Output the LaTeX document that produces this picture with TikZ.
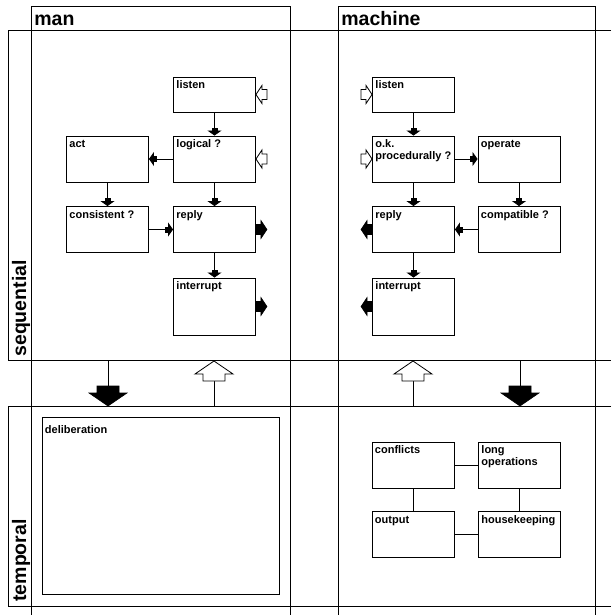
\documentclass[tikz,border=0pt]{standalone}
\usepackage{fontspec}
\setmainfont{Liberation Sans}
\usetikzlibrary{arrows.meta}
\newcommand\boxfont{\fontsize{11}{12}\selectfont\bfseries}
\newcommand\headfont{\fontsize{19.5}{22}\selectfont\bfseries}
\begin{document}
\begin{tikzpicture}[x=1pt,y=-1pt,line width=.8pt,
  box/.style={draw,line width=.9pt,minimum width=82pt,minimum height=46pt,inner sep=0pt},
  lowbox/.style={box,minimum height=35pt},
  highbox/.style={box,minimum height=57pt},
  lbl/.style={anchor=north west,inner xsep=3pt,inner ysep=3.6pt,align=left,font=\boxfont,execute at begin node=\strut},
  head/.style={font=\headfont,inner sep=0pt,anchor=base west},
  flow/.style={-{Rectangle[width=6pt,length=3pt]Triangle[width=14pt,length=5pt]}},
  filledarrow/.style={draw,fill=black,line width=.6pt},
  hollowarrow/.style={draw,fill=white,line width=.8pt},
  bigarrow/.pic={\path[pic actions] (0,0) -- (-13,19) -- (-13,11) -- (-20,11) -- (-20,-11) -- (-13,-11) -- (-13,-19) -- cycle;},
  sidearrow/.pic={\path[pic actions] (0,0) -- (-6,9) -- (-6,5) -- (-11,5) -- (-11,-5) -- (-6,-5) -- (-6,-9) -- cycle;}]
  \useasboundingbox (0,0) rectangle (611,615);
  \draw (611,30) -- (8,30) -- (8,360) -- (611,360);
  \draw (611,406) -- (8,406) -- (8,606) -- (611,606);
  \draw (31,615) -- (31,6) -- (290,6) -- (290,615);
  \draw (338,615) -- (338,6) -- (595,6) -- (595,615);
  \node[head] (man) at (34,26) {man};
  \node[head] (machine) at (341,26) {machine};
  \node[head,rotate=90] (seq) at (26,357) {sequential};
  \node[head,rotate=90] (temp) at (26,602) {temporal};

  \node[lowbox,label={[lbl]north west:listen}] (mlisten) at (214.5,94.5) {};
  \node[box,label={[lbl]north west:logical ?}] (mlogical) at (214.5,159) {};
  \node[box,label={[lbl]north west:act}] (mact) at (107.5,159) {};
  \node[box,label={[lbl]north west:consistent ?}] (mconsistent) at (107.5,229.5) {};
  \node[box,label={[lbl]north west:reply}] (mreply) at (214.5,229.5) {};
  \node[highbox,label={[lbl]north west:interrupt}] (minterrupt) at (214.5,306.5) {};
  \draw[flow] (mlisten) -- (mlogical);
  \draw[flow] (mlogical) -- (mact);
  \draw[flow] (mlogical) -- (mreply);
  \draw[flow] (mact) -- (mconsistent);
  \draw[flow] (mconsistent) -- (mreply);
  \draw[flow] (mreply) -- (minterrupt);
  \pic[hollowarrow,rotate=180] at (mlisten.east) {sidearrow};
  \pic[hollowarrow,rotate=180] at (mlogical.east) {sidearrow};
  \pic[filledarrow] at ([xshift=11pt]mreply.east) {sidearrow};
  \pic[filledarrow] at ([xshift=11pt]minterrupt.east) {sidearrow};

  \node[lowbox,label={[lbl]north west:listen}] (clisten) at (413.5,94.5) {};
  \node[box,label={[lbl]north west:o.k.\\procedurally ?}] (cok) at (413.5,159) {};
  \node[box,label={[lbl]north west:operate}] (coperate) at (519,159) {};
  \node[box,label={[lbl]north west:reply}] (creply) at (413.5,229.5) {};
  \node[box,label={[lbl]north west:compatible ?}] (ccompatible) at (519,229.5) {};
  \node[highbox,label={[lbl]north west:interrupt}] (cinterrupt) at (413.5,306.5) {};
  \draw[flow] (clisten) -- (cok);
  \draw[flow] (cok) -- (coperate);
  \draw[flow] (cok) -- (creply);
  \draw[flow] (coperate) -- (ccompatible);
  \draw[flow] (ccompatible) -- (creply);
  \draw[flow] (creply) -- (cinterrupt);
  \pic[hollowarrow] at (clisten.west) {sidearrow};
  \pic[hollowarrow] at (cok.west) {sidearrow};
  \pic[filledarrow,rotate=180] at ([xshift=-11pt]creply.west) {sidearrow};
  \pic[filledarrow,rotate=180] at ([xshift=-11pt]cinterrupt.west) {sidearrow};

  \draw (108,360) -- (108,387);
  \pic[filledarrow,rotate=-90] at (108,406) {bigarrow};
  \draw (214,406) -- (214,380);
  \pic[hollowarrow,rotate=90] at (214,361) {bigarrow};
  \draw (413,406) -- (413,380);
  \pic[hollowarrow,rotate=90] at (413,361) {bigarrow};
  \draw (520,360) -- (520,387);
  \pic[filledarrow,rotate=-90] at (520,406) {bigarrow};

  \node[box,minimum width=237pt,minimum height=177pt,label={[lbl,inner ysep=8.6pt]north west:deliberation}] (delib) at (160.5,505.5) {};
  \node[box,label={[lbl]north west:conflicts}] (conflicts) at (413,465) {};
  \node[box,label={[lbl]north west:long\\operations}] (longops) at (519.5,465) {};
  \node[box,label={[lbl]north west:output}] (output) at (413,534.5) {};
  \node[box,label={[lbl]north west:housekeeping}] (housekeeping) at (519.5,534.5) {};
  \draw (conflicts) -- (longops);
  \draw (conflicts) -- (output);
  \draw (longops) -- (housekeeping);
  \draw (output) -- (housekeeping);
\end{tikzpicture}
\end{document}
